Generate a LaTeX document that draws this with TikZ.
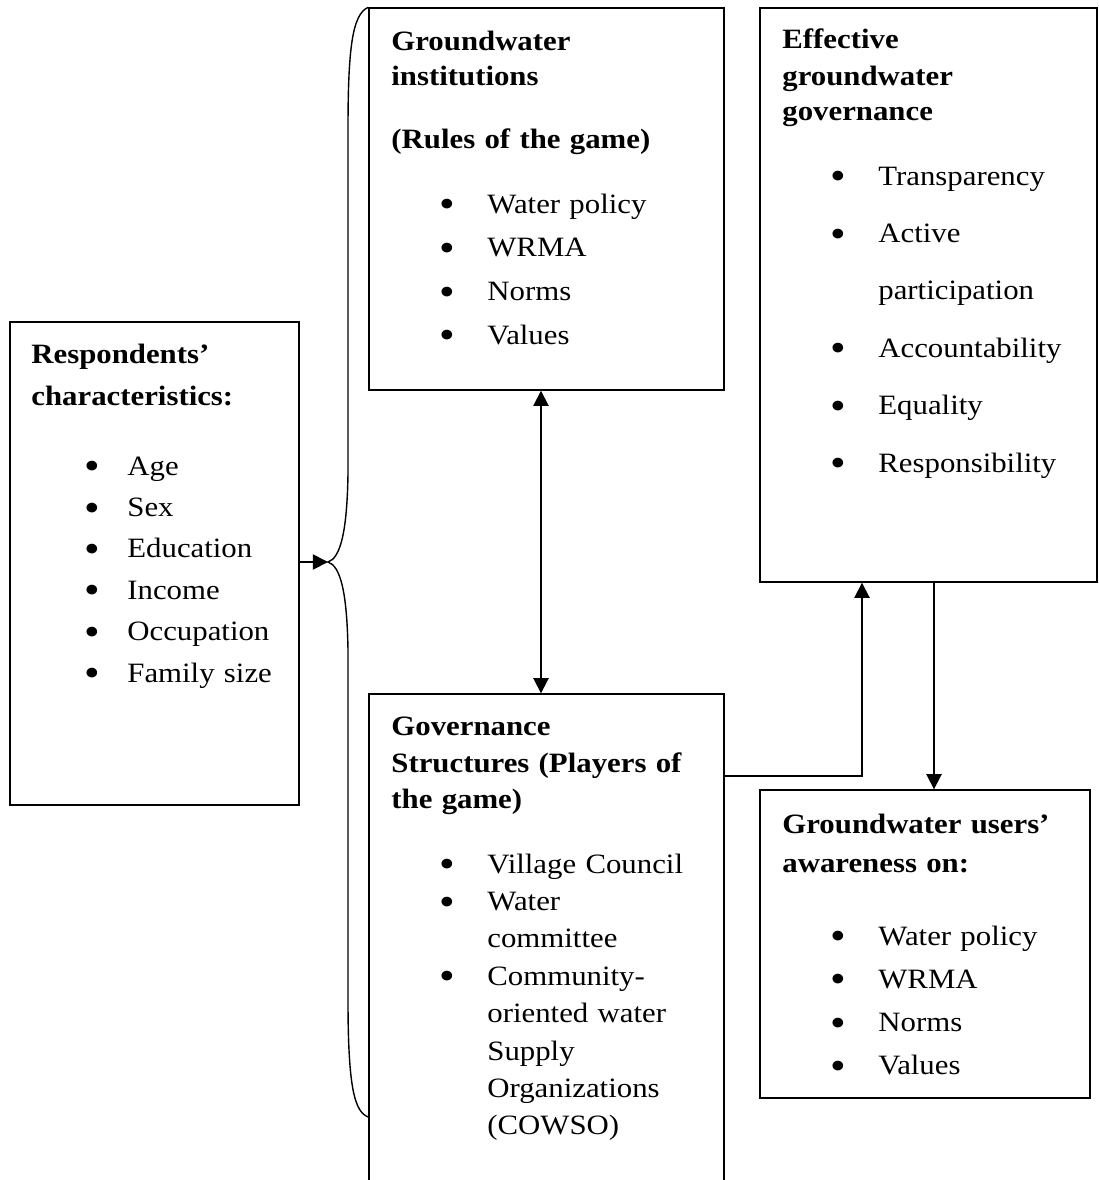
\documentclass[tikz,border=0pt]{standalone}
\usepackage{fontspec}
\setmainfont{Liberation Serif}[FakeStretch=1.1]
\usetikzlibrary{arrows.meta, fit}

\newcommand{\bigdot}{\raisebox{-2.3pt}{\scalebox{1.45}{\textbullet}}}
\newcommand{\blt}[2][24pt]{\hspace*{#1}\makebox[\dimexpr48pt-#1\relax][l]{\bigdot}#2}
\newcommand{\cnt}[1]{\hspace*{48pt}#1}

\begin{document}
\begin{tikzpicture}[
    x=0.5pt, y=-0.5pt,
    >={Triangle[length=7.6pt, width=7.6pt]},
    box/.style={draw, line width=0.7pt, inner sep=0pt},
    txt/.style={anchor=base west, inner sep=0pt, text width=200pt, align=left},
    arr/.style={->, line width=0.9pt},
]
    \useasboundingbox (0,0) rectangle (1099,1180);
    \clip (0,0) rectangle (1099,1180);

    % boxes
    \node[box, fit={(10,322) (299,805)}]   (resp)  {};
    \node[box, fit={(369,8) (724,390)}]    (inst)  {};
    \node[box, fit={(760,8) (1097,582)}]   (eff)   {};
    \node[box, fit={(369,694) (724,1200)}] (gov)   {};
    \node[box, fit={(760,790) (1090,1098)}] (users) {};

    % texts
    \node[txt, font=\fontsize{14}{20.7}\selectfont] (resp-t) at (31,363) {%
        \textbf{Respondents'}\\[0.3pt]
        \textbf{characteristics:}\\[14.3pt]
        \blt[26.5pt]{Age}\\
        \blt[26.5pt]{Sex}\\
        \blt[26.5pt]{Education}\\
        \blt[26.5pt]{Income}\\
        \blt[26.5pt]{Occupation}\\
        \blt[26.5pt]{Family size}};

    \node[txt, font=\fontsize{14}{21.85}\selectfont] (inst-t) at (391,50) {%
        \textbf{Groundwater}\\[-4.35pt]
        \textbf{institutions}\\[9.65pt]
        \textbf{(Rules of the game)}\\[10.65pt]
        \blt{Water policy}\\
        \blt{WRMA}\\
        \blt{Norms}\\
        \blt{Values}};

    \node[txt, font=\fontsize{14}{28.7}\selectfont] (eff-t) at (782,48) {%
        \textbf{Effective}\\[-10.2pt]
        \textbf{groundwater}\\[-11.2pt]
        \textbf{governance}\\[3.8pt]
        \blt{Transparency}\\
        \blt{Active}\\
        \cnt{participation}\\
        \blt{Accountability}\\
        \blt{Equality}\\
        \blt{Responsibility}};

    \node[txt, font=\fontsize{14}{18.7}\selectfont] (gov-t) at (391,735) {%
        \textbf{Governance}\\[-0.2pt]
        \textbf{Structures (Players of}\\[-0.7pt]
        \textbf{the game)}\\[13.8pt]
        \blt{Village Council}\\
        \blt{Water}\\
        \cnt{committee}\\
        \blt{Community-}\\
        \cnt{oriented water}\\
        \cnt{Supply}\\
        \cnt{Organizations}\\
        \cnt{(COWSO)}};

    \node[txt, font=\fontsize{14}{21.65}\selectfont] (users-t) at (782,833) {%
        \textbf{Groundwater users'}\\[-2.15pt]
        \textbf{awareness on:}\\[14.85pt]
        \blt{Water policy}\\
        \blt{WRMA}\\
        \blt{Norms}\\
        \blt{Values}};

    % brace and links
    \coordinate (tip) at (328,562);
    \coordinate (gx)  at (541,0);
    \coordinate (upx) at (862,776);
    \coordinate (dnx) at (934,0);

    \draw[line width=0.7pt] (inst.north west)
        .. controls (352,14) and (348,50) .. (348,130) -- (348,474)
        .. controls (347,534) and (340,558) .. (tip)
        .. controls (340,566) and (347,590) .. (348,650) -- (348,1000)
        .. controls (348,1090) and (355,1112) .. (gov.west |- 0,1117);

    \draw[arr] (resp.east |- tip) -- (tip);
    \draw[arr, <->] (inst.south -| gx) -- (gov.north -| gx);
    \draw[arr] (gov.east |- upx) -| (eff.south -| upx);
    \draw[arr] (eff.south -| dnx) -- (users.north -| dnx);
\end{tikzpicture}
\end{document}
